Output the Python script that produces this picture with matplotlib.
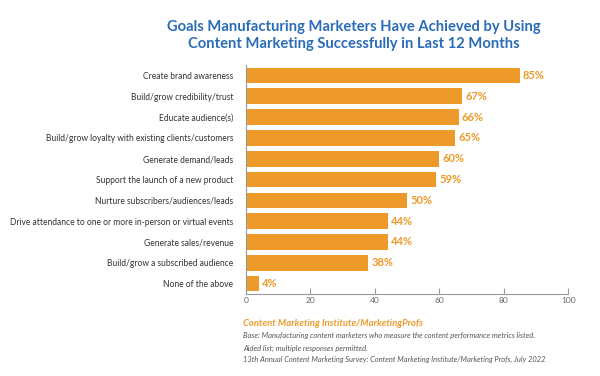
import matplotlib
matplotlib.use("Agg")
import matplotlib.pyplot as plt

categories = [
    "Create brand awareness",
    "Build/grow credibility/trust",
    "Educate audience(s)",
    "Build/grow loyalty with existing clients/customers",
    "Generate demand/leads",
    "Support the launch of a new product",
    "Nurture subscribers/audiences/leads",
    "Drive attendance to one or more in-person or virtual events",
    "Generate sales/revenue",
    "Build/grow a subscribed audience",
    "None of the above",
]
values = [85, 67, 66, 65, 60, 59, 50, 44, 44, 38, 4]
xticks = [0, 20, 40, 60, 80, 100]

orange = "#EE9A2A"
blue = "#2B6CB8"
gray = "#9A9A9A"
plt.rcParams['font.family'] = ['Lato', 'DejaVu Sans']

fig = plt.figure(figsize=(6, 3.76), dpi=100)
ax = fig.add_axes([0.41, 0.218, 0.537, 0.609])
y = list(range(len(categories)))
ax.barh(y, values, height=0.75, color=orange)
ax.set_ylim(len(categories) - 0.5, -0.5)
ax.set_xlim(0, 100)
ax.set_yticks(y)
ax.set_yticklabels(categories, fontsize=6.15, color="#333333")
ax.tick_params(axis='y', length=0, pad=9)
ax.set_xticks(xticks)
ax.set_xticklabels([str(t) for t in xticks], fontsize=6, color="#666666")
ax.tick_params(axis='x', direction='in', length=4, color=gray, pad=2)
for s in ['top', 'right']:
    ax.spines[s].set_visible(False)
for s in ['left', 'bottom']:
    ax.spines[s].set_color(gray)
    ax.spines[s].set_linewidth(0.8)
for yi, v in zip(y, values):
    ax.text(v + 1, yi, f"{v}%", va='center', ha='left', fontsize=8,
            fontweight='bold', color=orange)

fig.text(0.59, 0.905, "Goals Manufacturing Marketers Have Achieved by Using\nContent Marketing Successfully in Last 12 Months",
         ha='center', va='center', fontsize=10.6, fontweight='bold', color=blue, linespacing=1.25)

fig.text(0.405, 0.139, "Content Marketing Institute/MarketingProfs", fontsize=6.8,
         fontweight='bold', style='italic', color=orange, ha='left', va='center')
fig.text(0.405, 0.109, "Base: Manufacturing content marketers who measure the content performance metrics listed.",
         fontsize=5.4, style='italic', color="#555555", ha='left', va='center')
fig.text(0.405, 0.074, "Aided list; multiple responses permitted.",
         fontsize=5.4, style='italic', color="#555555", ha='left', va='center')
fig.text(0.405, 0.045, "13th Annual Content Marketing Survey: Content Marketing Institute/Marketing Profs, July 2022",
         fontsize=5.4, style='italic', color="#555555", ha='left', va='center')

fig.savefig("out.png", dpi=100)
